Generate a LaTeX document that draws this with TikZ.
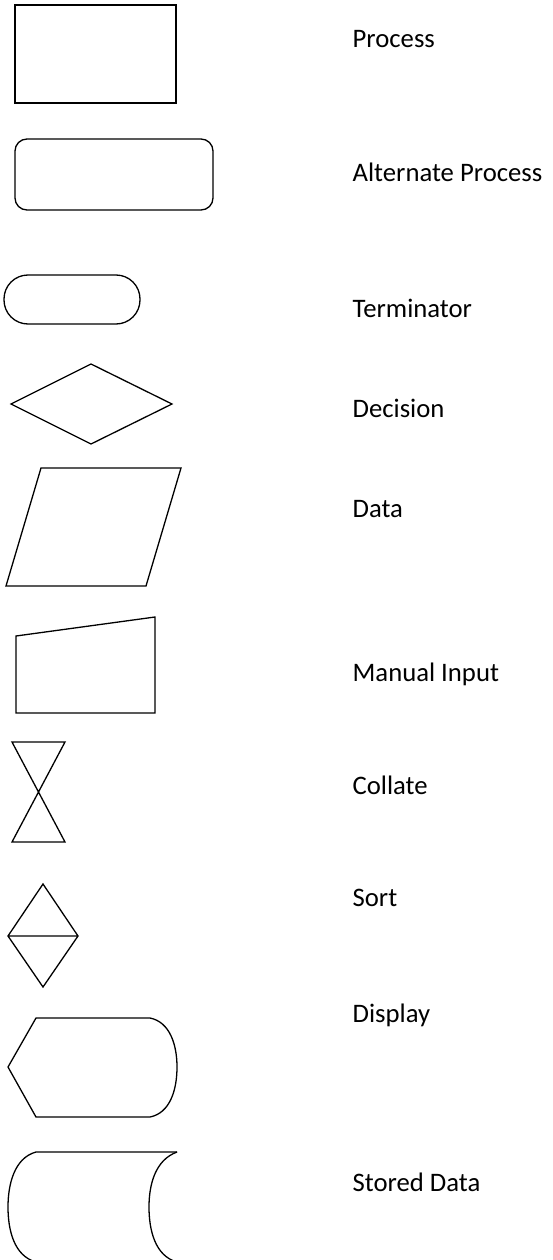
\documentclass[tikz,border=0pt]{standalone}
\usepackage{fontspec}
\setmainfont{Carlito}
\begin{document}
\begin{tikzpicture}[x=1pt,y=-1pt,line width=1.3pt,line join=miter,
  lbl/.style={anchor=base west,inner sep=0pt,font=\fontsize{26.7}{32}\selectfont}]
\useasboundingbox (0,0) rectangle (552,1260);
% shapes
\draw (15,5) rectangle (176,103);
\draw[rounded corners=12pt] (15,139) rectangle (213,210);
\draw[rounded corners=24pt] (4,275) rectangle (140,324);
\draw (11,404)--(91,364)--(172,404)--(91,444)--cycle;
\draw (41,468)--(181,468)--(146,586)--(6,586)--cycle;
\draw (16,636)--(155,617)--(155,713)--(16,713)--cycle;
\draw (12,742)--(65,742)--(12,842)--(65,842)--cycle;
\draw (43,884)--(78,936)--(43,987)--(8,936)--cycle (8,936)--(78,936);
\draw (8,1067)--(36,1018)--(150,1018) .. controls (170,1022) and (177,1045) .. (177,1067)
  .. controls (177,1090) and (170,1113) .. (150,1117)--(36,1117)--cycle;
\draw (177,1152)--(36,1152) .. controls (14,1158) and (8,1185) .. (8,1207)
  .. controls (8,1230) and (14,1256) .. (36,1262);
\draw (177,1152) .. controls (155,1160) and (149,1185) .. (149,1207)
  .. controls (149,1230) and (155,1256) .. (177,1262);
% labels
\node[lbl] (process) at (352,48) {Process};
\node[lbl] (altprocess) at (352,182) {Alternate Process};
\node[lbl] (terminator) at (352,317) {Terminator};
\node[lbl] (decision) at (352,417) {Decision};
\node[lbl] (data) at (352,517) {Data};
\node[lbl] (manual) at (352,681) {Manual Input};
\node[lbl] (collate) at (352,794) {Collate};
\node[lbl] (sort) at (352,906) {Sort};
\node[lbl] (display) at (352,1022) {Display};
\node[lbl] (stored) at (352,1191) {Stored Data};
\end{tikzpicture}
\end{document}
